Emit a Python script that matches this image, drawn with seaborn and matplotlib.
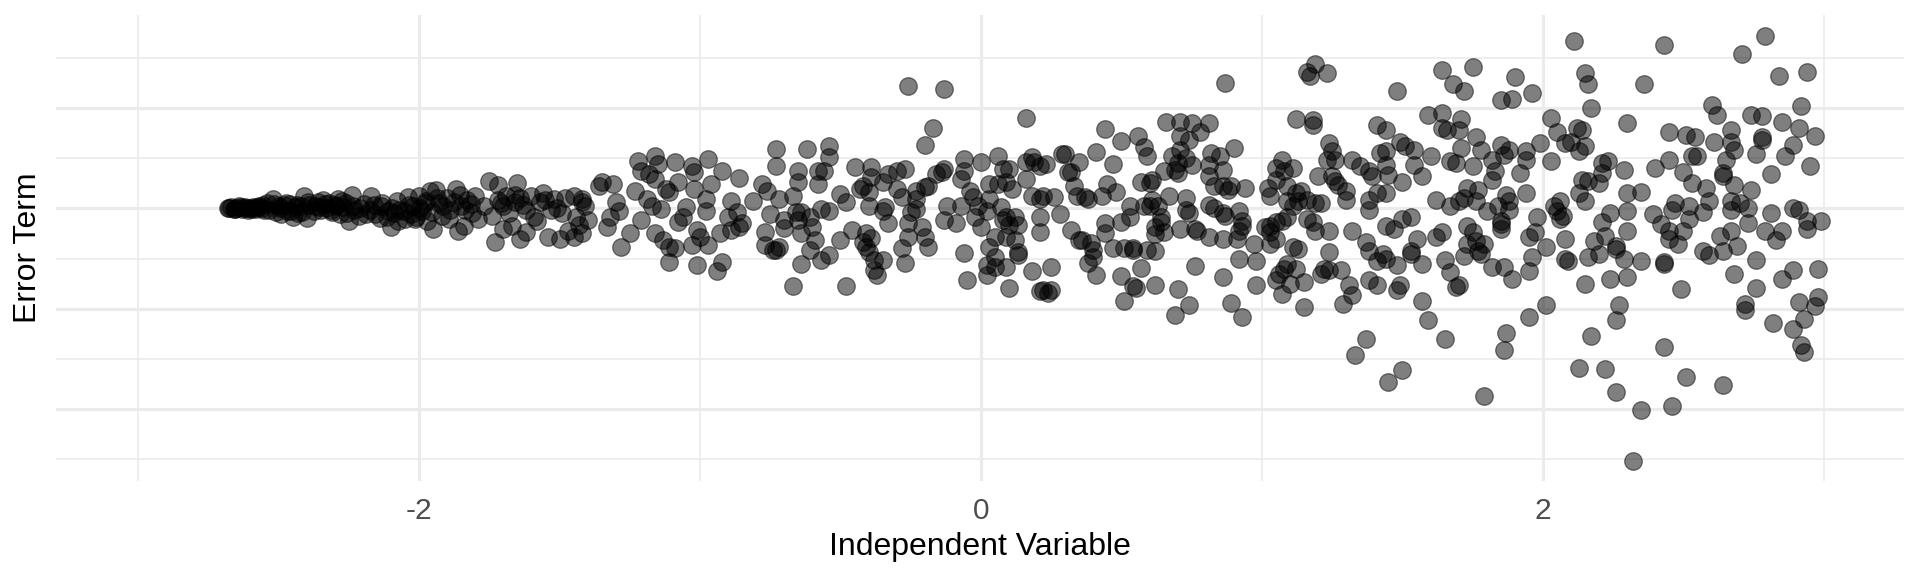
import numpy as np
import pandas as pd
import matplotlib
matplotlib.use("Agg")
import matplotlib.pyplot as plt
import seaborn as sns

# ── Data, grouped by region of the x axis ───────────────────────────────────
# narrow band on the left (x < -1.45)
x_band = [-2.68, -2.67, -2.66, -2.65, -2.64, -2.63, -2.62, -2.61, -2.60, -2.59, -2.58, -2.57, -2.56, -2.55,
          -2.54, -2.52, -2.51, -2.50, -2.49, -2.48,
          -2.47, -2.46, -2.45, -2.44, -2.43, -2.42, -2.41, -2.40, -2.39,
          -2.37, -2.36, -2.35, -2.34, -2.33, -2.32, -2.31, -2.30, -2.29, -2.28, -2.27, -2.26, -2.25, -2.24, -2.23,
          -2.21, -2.19, -2.17, -2.16, -2.14, -2.13, -2.11,
          -2.10, -2.09, -2.08, -2.07, -2.05, -2.04, -2.03, -2.02, -2.01, -2.00, -1.99, -1.98, -1.97, -1.96,
          -1.95, -1.94, -1.93, -1.92, -1.90, -1.89, -1.87, -1.86, -1.85, -1.84, -1.83, -1.81, -1.80, -1.79,
          -1.77, -1.75, -1.74, -1.73, -1.72, -1.71, -1.70, -1.69, -1.67, -1.66, -1.65, -1.64, -1.63, -1.62,
          -1.60, -1.59, -1.57, -1.55, -1.54, -1.53, -1.51, -1.50, -1.48, -1.47]
err_band = [0.00, 0.01, -0.01, 0.00, 0.02, -0.01, 0.01, -0.02, 0.00, 0.01, -0.01, 0.02, 0.00, -0.02,
            0.05, 0.09, -0.04, 0.02, -0.06, 0.03,
            -0.03, 0.04, -0.08, 0.01, -0.05, 0.02, 0.12, -0.09, 0.03,
            0.02, 0.06, -0.02, 0.08, 0.00, 0.05, -0.04, 0.03, 0.09, -0.06, 0.01, 0.05, -0.12, 0.13, -0.02,
            0.00, -0.06, 0.12, 0.03, -0.09, 0.05, -0.03,
            -0.18, -0.05, 0.07, -0.02, -0.10, 0.11, -0.06, 0.02, -0.08, 0.12, -0.03, 0.05, -0.12, 0.17,
            -0.20, 0.18, 0.05, -0.07, 0.10, -0.02, 0.19, -0.22, 0.02, -0.17, 0.08, -0.05, 0.12, -0.10,
            0.02, 0.27, -0.07, -0.33, 0.23, 0.05, -0.20, 0.12, -0.17, 0.13, 0.25, -0.30, 0.03, -0.23,
            0.12, -0.08, 0.06, 0.08, -0.28, -0.02, 0.00, -0.30, 0.10, -0.22]

# extra points hidden inside the solid black part of the band
x_band_core = [-2.675, -2.655, -2.635, -2.615, -2.595, -2.575, -2.555, -2.535, -2.515, -2.495,
               -2.475, -2.455, -2.435, -2.415, -2.395, -2.375, -2.355, -2.335, -2.315, -2.295,
               -2.275, -2.255, -2.235, -2.215, -2.195, -2.175, -2.155, -2.135, -2.115, -2.095,
               -2.075, -2.055, -2.035, -2.015, -1.995, -1.975, -1.955, -1.935, -1.915, -1.895,
               -1.875, -1.855, -1.835, -1.815,
               -1.72, -1.70, -1.68, -1.66, -1.64, -1.62, -1.58, -1.56, -1.52, -1.49]
err_band_core = [0.00, -0.01, 0.01, 0.00, -0.01, 0.01, 0.03, -0.02, 0.04, 0.00,
                 0.05, -0.03, 0.03, -0.04, 0.06, -0.03, 0.01, 0.04, -0.02, 0.02,
                 0.07, -0.05, 0.02, -0.07, 0.04, -0.02, -0.06, 0.02, -0.08, 0.00,
                 -0.12, -0.03, 0.03, -0.10, 0.00, 0.07, -0.04, 0.10, 0.02, -0.10,
                 0.06, 0.13, -0.02, 0.04,
                 0.08, 0.02, -0.05, 0.06, 0.10, -0.02, -0.12, 0.15, 0.09, -0.05]

# -1.45 .. -0.25
x_west = [-1.45, -1.42, -1.41, -1.44, -1.45, -1.42, -1.40, -1.43, -1.42, -1.35,
          -1.31, -1.36, -1.30, -1.29, -1.32, -1.33, -1.28, -1.25, -1.22, -1.21,
          -1.23, -1.21, -1.19, -1.16, -1.15, -1.18, -1.16, -1.14, -1.17, -1.16,
          -1.13, -1.11, -1.11, -1.09, -1.09, -1.08, -1.11, -1.12, -1.05, -1.06,
          -1.08, -1.03, -1.02, -1.02, -1.03, -1.01, -1.00, -0.98, -0.97, -0.96,
          -0.98, -1.01, -0.94, -0.92, -0.97, -0.93, -0.92, -0.89, -0.87, -0.90,
          -0.85, -0.86, -0.89, -0.86, -0.81, -0.78, -0.76, -0.77, -0.77, -0.74,
          -0.73, -0.72, -0.75, -0.73, -0.73, -0.72, -0.70, -0.70, -0.67, -0.67,
          -0.65, -0.65, -0.66, -0.64, -0.65, -0.61, -0.64, -0.64, -0.62, -0.61,
          -0.59, -0.60, -0.58, -0.58, -0.56, -0.57, -0.54, -0.54, -0.54, -0.54,
          -0.57, -0.50, -0.48, -0.50, -0.48, -0.45, -0.46, -0.43, -0.42, -0.40,
          -0.40, -0.42, -0.41, -0.39, -0.41, -0.40, -0.39, -0.39, -0.38, -0.38,
          -0.37, -0.35, -0.35, -0.34, -0.35, -0.33, -0.30, -0.33, -0.30, -0.28,
          -0.27, -0.28, -0.27, -0.26]
err_west = [0.12, 0.09, 0.02, -0.08, -0.28, -0.24, -0.11, -0.16, 0.06, 0.26,
            0.24, 0.22, 0.06, -0.03, -0.08, -0.18, -0.38, -0.24, 0.47, 0.37,
            0.17, -0.11, 0.09, 0.52, 0.44, 0.34, 0.29, -0.01, 0.02, -0.24,
            -0.31, -0.38, -0.53, -0.39, 0.46, 0.26, 0.16, 0.19, 0.01, -0.08,
            -0.13, 0.42, 0.36, 0.19, -0.36, -0.21, -0.28, -0.03, 0.49, 0.24,
            0.09, -0.56, -0.62, -0.53, -0.36, -0.24, 0.37, 0.07, -0.04, -0.08,
            -0.14, -0.18, -0.21, 0.30, 0.07, 0.24, 0.17, -0.23, -0.36, -0.41,
            -0.41, -0.38, -0.06, 0.59, 0.42, 0.09, -0.11, -0.19, -0.77, 0.12,
            0.37, 0.26, -0.04, -0.04, -0.11, -0.08, -0.24, -0.55, 0.59, -0.41,
            -0.31, -0.18, 0.37, 0.24, 0.37, -0.51, -0.46, 0.62, 0.51, -0.03,
            -0.01, 0.14, 0.06, -0.31, -0.77, 0.41, -0.21, 0.19, 0.22, 0.16,
            0.02, -0.33, -0.24, -0.29, -0.38, -0.43, 0.41, 0.31, -0.51, -0.61,
            -0.66, -0.51, 0.26, 0.01, -0.03, 0.34, 0.37, -0.14, 0.19, 0.11,
            0.39, -0.39, -0.54, 1.22]

# -0.25 .. 0.60
x_centre = [-0.13, -0.17, -0.20, -0.23, -0.20, -0.19, -0.23, -0.23, -0.25, -0.26, -0.21, -0.20, -0.19, -0.26,
            -0.14, -0.16, -0.13, -0.12, -0.13, -0.09, -0.07, -0.07, -0.06, -0.06, -0.06, -0.05, -0.04, -0.03,
            -0.02, 0.00, -0.01, 0.00,
            0.03, 0.02, 0.03, 0.05, 0.03, 0.05, 0.02, 0.02, 0.05, 0.06, 0.08, 0.06, 0.09, 0.11, 0.07, 0.08,
            0.10, 0.09, 0.12, 0.13, 0.10, 0.09, 0.12, 0.13, 0.13, 0.09, 0.10,
            0.16, 0.16, 0.16, 0.18, 0.21, 0.22, 0.18, 0.19, 0.21, 0.23, 0.21, 0.21, 0.18, 0.22, 0.24, 0.25,
            0.21, 0.25,
            0.26, 0.28, 0.29, 0.30, 0.31, 0.32, 0.32, 0.33, 0.35, 0.34, 0.37, 0.38, 0.35, 0.36, 0.39, 0.40,
            0.40, 0.38, 0.41, 0.41,
            0.43, 0.44, 0.44, 0.44, 0.45, 0.48, 0.47, 0.47, 0.50, 0.50, 0.50, 0.53, 0.53, 0.51, 0.54, 0.54,
            0.54, 0.55, 0.51, 0.56, 0.58, 0.57, 0.58, 0.57, 0.59, 0.59]
err_centre = [1.19, 0.80, 0.63, 0.17, 0.21, 0.22, 0.09, -0.01, -0.04, -0.14, -0.18, -0.28, -0.38, -0.28,
              0.36, 0.34, 0.39, 0.02, -0.11, -0.14, 0.02, 0.29, 0.49, 0.37, -0.44, -0.71, 0.17, 0.11,
              -0.08, -0.18, 0.02, 0.46,
              0.09, -0.03, 0.24, -0.28, -0.38, -0.48, -0.56, -0.66, -0.58, 0.52, 0.39, 0.24, 0.26, 0.19, 0.01, -0.11,
              -0.16, -0.08, -0.08, -0.16, 0.39, -0.28, -0.31, -0.43, -0.46, -0.58, -0.79,
              0.46, 0.29, 0.90, 0.12, 0.09, 0.12, 0.51, 0.46, 0.42, 0.44, -0.08, -0.23, -0.62, -0.81, -0.84, -0.81,
              -0.82, -0.58,
              0.11, -0.06, 0.54, 0.54, 0.36, 0.36, -0.21, 0.22, 0.46, 0.12, 0.11, 0.09, -0.31, -0.31, -0.34, -0.41,
              -0.48, -0.54, -0.66, 0.56,
              0.12, -0.14, -0.24, 0.79, 0.24, 0.16, 0.44, -0.39, -0.67, 0.67, -0.13, 0.02, -0.08, -0.39, -0.39, -0.41,
              -0.77, -0.79, -0.92, 0.72, 0.61, 0.26, 0.02, -0.59, -0.41, 0.52]

# 0.60 .. 1.45
x_east = [0.87, 1.16, 1.19, 1.23, 1.17, 1.12, 1.18, 1.18,
          0.66, 0.71, 0.75, 0.81, 0.78, 0.71, 0.74,
          0.68, 0.71, 0.70, 0.73, 0.75, 0.69, 0.70, 0.65, 0.60, 0.61,
          0.82, 0.85, 0.81, 0.86, 0.81, 0.90,
          0.83, 0.86, 0.89, 0.94, 0.88, 0.67, 0.73, 0.61, 0.63, 0.60,
          0.81, 0.83, 0.86, 0.87, 0.73, 0.74, 0.92, 0.93, 0.93, 0.92,
          0.64, 0.62, 0.64, 0.62, 0.65, 0.71, 0.76, 0.77, 0.81, 0.86, 0.91,
          0.97, 0.98, 0.92, 0.62, 0.76, 0.86, 0.62, 0.70, 0.74, 0.69, 0.89, 0.93, 0.98,
          1.02, 1.03, 1.05, 1.07, 1.11, 1.05, 1.08, 1.09, 1.12, 1.14, 1.13, 1.09, 1.09, 1.07,
          1.01, 1.03, 1.05, 1.03, 1.05, 1.03, 1.11, 1.16, 1.19, 1.21, 1.16, 1.18, 1.19,
          1.11, 1.13, 1.09, 1.08, 1.12, 1.06, 1.05, 1.07, 1.10, 1.15, 1.15,
          1.24, 1.24, 1.25, 1.26, 1.23, 1.20, 1.25, 1.26, 1.27, 1.30, 1.30, 1.32,
          1.32, 1.35, 1.38, 1.39, 1.38, 1.38, 1.41, 1.44, 1.42, 1.44, 1.44, 1.44, 1.41, 1.44,
          1.37, 1.38, 1.41, 1.44, 1.24, 1.22, 1.21, 1.24, 1.28, 1.31, 1.32, 1.29, 1.38, 1.41, 1.43, 1.37, 1.33]
err_east = [1.25, 1.36, 1.44, 1.35, 1.32, 0.89, 0.88, 0.83,
            0.86, 0.86, 0.85, 0.85, 0.76, 0.72, 0.68,
            0.52, 0.58, 0.45, 0.50, 0.43, 0.38, 0.35, 0.37, 0.25, 0.28,
            0.55, 0.52, 0.43, 0.38, 0.32, 0.60,
            0.22, 0.22, 0.22, 0.20, 0.18, 0.12, 0.10, 0.08, 0.02, 0.02,
            0.03, 0.00, -0.05, -0.07, -0.02, -0.05, -0.03, -0.12, -0.17, -0.22,
            -0.08, -0.18, -0.13, -0.25, -0.23, -0.20, -0.20, -0.22, -0.28, -0.30, -0.30,
            -0.35, -0.52, -0.50, -0.42, -0.57, -0.68, -0.76, -0.80, -0.96, -1.06, -0.94, -1.08, -0.76,
            0.20, 0.12, 0.28, 0.48, 0.40, 0.40, 0.37, 0.22, 0.15, 0.17, 0.07, 0.07, -0.08, -0.12,
            -0.18, -0.17, -0.13, -0.23, -0.30, -0.35, 0.02, 0.08, 0.05, 0.05, -0.10, -0.13, -0.22,
            -0.38, -0.40, -0.55, -0.60, -0.60, -0.65, -0.71, -0.85, -0.75, -0.73, -0.98,
            -0.22, 0.65, 0.57, 0.48, 0.48, 0.32, 0.32, 0.27, 0.23, 0.17, 0.08, -0.22,
            0.48, 0.42, 0.37, 0.32, 0.08, -0.02, 0.83, 0.78, 0.55, 0.57, 0.43, 0.15, 0.15, -0.17,
            -0.33, -0.42, -0.52, -0.50, -0.43, -0.60, -0.65, -0.61, -0.61, -0.76, -0.86, -0.95, -0.71, -0.76,
            -0.45, -1.30, -1.46]

# 1.45 .. 2.30
x_far = [1.48, 1.64, 1.68, 1.72, 1.75, 1.85, 1.89, 1.90, 1.96, 2.11, 2.15, 2.16, 2.17,
         1.59, 1.64, 1.71, 1.64, 1.66, 1.70, 1.49, 1.51, 1.54, 1.60, 1.54, 1.57, 1.50, 1.45,
         1.76, 1.78, 1.71, 1.75, 1.69, 1.67, 1.85, 1.88, 1.86, 1.94, 1.94, 1.92, 1.82, 1.83, 1.82,
         1.99, 2.03, 2.03, 2.05, 2.12, 2.14, 2.08, 2.10, 2.13, 2.15, 2.21, 2.23, 2.21, 2.20, 2.14, 2.16,
         2.13, 2.15,
         2.30, 2.29, 2.30,
         1.62, 1.67, 1.70, 1.72, 1.73, 1.77, 1.76, 1.80, 1.84, 1.85, 1.88, 1.88, 1.87, 1.94, 1.85, 1.85,
         1.98, 1.97, 1.95, 1.96, 1.95, 2.01, 2.04, 2.06, 2.05, 2.07, 2.06, 2.08, 2.08, 2.09,
         2.16, 2.18, 2.20, 2.22, 2.24, 2.21, 2.26, 2.26, 2.29, 2.30, 2.30,
         2.15, 2.24, 2.30, 2.27, 2.26, 2.17, 2.13, 2.22, 2.26, 2.01, 1.95, 1.87, 1.86, 1.79, 1.65, 1.59,
         1.57, 1.50, 1.45,
         1.48, 1.49, 1.65, 1.67, 1.69, 1.70, 1.57, 1.53, 1.53, 1.48, 1.55, 1.62, 1.64,
         1.73, 1.75, 1.76, 1.73, 1.77, 1.78, 1.72, 1.79, 1.82, 1.86, 1.89, 1.47, 1.50, 1.53]
err_far = [1.17, 1.38, 1.24, 1.17, 1.41, 1.08, 1.09, 1.31, 1.15, 1.67, 1.35, 1.24, 1.00,
           0.93, 0.95, 0.89, 0.80, 0.78, 0.78, 0.66, 0.62, 0.58, 0.52, 0.43, 0.32, 0.26, 0.33,
           0.71, 0.58, 0.60, 0.42, 0.45, 0.47, 0.63, 0.58, 0.53, 0.57, 0.48, 0.35, 0.48, 0.37, 0.28,
           0.65, 0.47, 0.90, 0.76, 0.80, 0.78, 0.65, 0.66, 0.57, 0.62, 0.45, 0.47, 0.35, 0.25, 0.28, 0.27,
           0.15, 0.07,
           0.85, 0.38, 0.15,
           0.08, 0.02, 0.07, 0.10, 0.20, 0.18, 0.07, -0.03, 0.02, -0.12, 0.07, -0.02, 0.13, 0.15, -0.20, -0.15,
           -0.08, -0.23, -0.28, -0.48, -0.62, -0.38, 0.02, 0.07, -0.03, -0.07, -0.10, -0.30, -0.50, -0.52,
           -0.48, -0.32, -0.45, -0.27, -0.05, -0.13, -0.37, -0.40, -0.50, -0.22, -0.03,
           -0.75, -0.70, -0.68, -0.96, -1.11, -1.27, -1.59, -1.60, -1.83, -0.96, -1.08, -1.24, -1.41, -1.87,
           -1.30, -1.11, -0.92, -1.61, -1.73,
           -0.81, -0.76, -0.51, -0.63, -0.78, -0.76, -0.55, -0.45, -0.42, -0.56, -0.30, -0.28, -0.23,
           -0.17, -0.23, -0.32, -0.35, -0.42, -0.45, -0.47, -0.35, -0.58, -0.58, -0.70, -0.20, -0.10, -0.08]

# 2.30 .. 3.00
x_edge = [2.43, 2.36, 2.71, 2.79, 2.84, 2.94, 2.60, 2.62, 2.74, 2.78, 2.85, 2.92, 2.91, 2.97,
          2.45, 2.51, 2.54, 2.61, 2.67, 2.67, 2.68, 2.65, 2.78, 2.78, 2.76, 2.86, 2.89, 2.95,
          2.40, 2.45, 2.50, 2.53, 2.55, 2.53, 2.58, 2.59, 2.64, 2.64, 2.68, 2.67, 2.67, 2.70, 2.73, 2.74,
          2.73, 2.81,
          2.35, 2.39, 2.42, 2.45, 2.45, 2.46, 2.47, 2.48, 2.50, 2.52, 2.52, 2.57, 2.57, 2.59, 2.63, 2.64,
          2.67, 2.69,
          2.81, 2.79, 2.83, 2.85, 2.89, 2.91, 2.94, 2.94, 2.99,
          2.35, 2.43, 2.43, 2.49, 2.68, 2.76, 2.76, 2.85, 2.89, 2.98,
          2.72, 2.72, 2.82, 2.89, 2.91, 2.93, 2.97, 2.98, 2.92, 2.93, 2.43, 2.51, 2.64, 2.35, 2.46, 2.32]
err_edge = [1.63, 1.24, 1.54, 1.72, 1.32, 1.36, 1.03, 0.93, 0.93, 0.92, 0.86, 1.02, 0.80, 0.72,
            0.76, 0.73, 0.71, 0.66, 0.78, 0.66, 0.58, 0.48, 0.71, 0.68, 0.54, 0.52, 0.63, 0.42,
            0.40, 0.48, 0.36, 0.52, 0.52, 0.25, 0.20, 0.07, 0.32, 0.35, 0.23, 0.07, -0.02, 0.05, 0.00, 0.18,
            -0.14, 0.34,
            0.16, -0.06, -0.15, -0.22, -0.30, -0.02, 0.05, -0.35, -0.22, 0.02, -0.10, -0.04, -0.42, -0.46,
            -0.27, -0.42, -0.22, -0.37,
            -0.05, -0.22, -0.31, -0.22, 0.00, -0.02, -0.12, -0.20, -0.12,
            -0.52, -0.55, -0.53, -0.80, -0.65, -0.51, -0.79, -0.70, -0.61, -0.60,
            -0.95, -1.01, -1.14, -1.20, -0.93, -1.10, -0.97, -0.88, -1.36, -1.43, -1.38, -1.68, -1.76,
            -2.01, -1.97, -2.52]

X_TICKS = [-2, 0, 2]
X_TICK_LABELS = ["-2", "0", "2"]

# ── Assemble ────────────────────────────────────────────────────────────────
segments = [(x_band, err_band), (x_band_core, err_band_core), (x_west, err_west),
            (x_centre, err_centre), (x_east, err_east), (x_far, err_far), (x_edge, err_edge)]
for xs, es in segments:
    assert len(xs) == len(es), (len(xs), len(es))

df = pd.DataFrame({
    "x": np.concatenate([xs for xs, _ in segments]),
    "err": np.concatenate([es for _, es in segments]),
})

# ── Style (ggplot theme_minimal look) ───────────────────────────────────────
sns.set_theme(style="white")
plt.rcParams["font.family"] = ["Liberation Sans", "DejaVu Sans"]
GRID = "#EBEBEB"

W, H = 1920, 576
fig = plt.figure(figsize=(W / 100, H / 100), dpi=100)
fig.patch.set_facecolor("white")
ax = fig.add_axes([56 / W, 1 - 481 / H, (1904 - 56) / W, (481 - 15) / H])

sns.scatterplot(data=df, x="x", y="err", ax=ax, color="black", alpha=0.5,
                s=160, edgecolor="black", linewidth=0.9, zorder=3)

ax.set_xlim(-3.292, 3.285)
ax.set_ylim(-2.717, 1.929)
ax.set_xticks(X_TICKS)
ax.set_xticklabels(X_TICK_LABELS)
ax.set_xticks([-3, -1, 1, 3], minor=True)
ax.set_yticks([-2, -1, 0, 1])
ax.set_yticks([-2.5, -1.5, -0.5, 0.5, 1.5], minor=True)
ax.set_yticklabels([])

ax.set_axisbelow(True)
ax.grid(True, which="major", color=GRID, linewidth=2.3)
ax.grid(True, which="minor", color=GRID, linewidth=1.2)
for s in ax.spines.values():
    s.set_visible(False)
ax.tick_params(which="both", length=0)
ax.tick_params(axis="x", labelsize=21.5, labelcolor="#4D4D4D", pad=11.5)

ax.set_xlabel("Independent Variable", fontsize=23, color="black")
ax.set_ylabel("Error Term", fontsize=23, color="black")
ax.xaxis.set_label_coords(0.5, -0.110)
ax.yaxis.set_label_coords(-0.0069, 0.5)

fig.savefig("out.png", dpi=100, facecolor="white")
